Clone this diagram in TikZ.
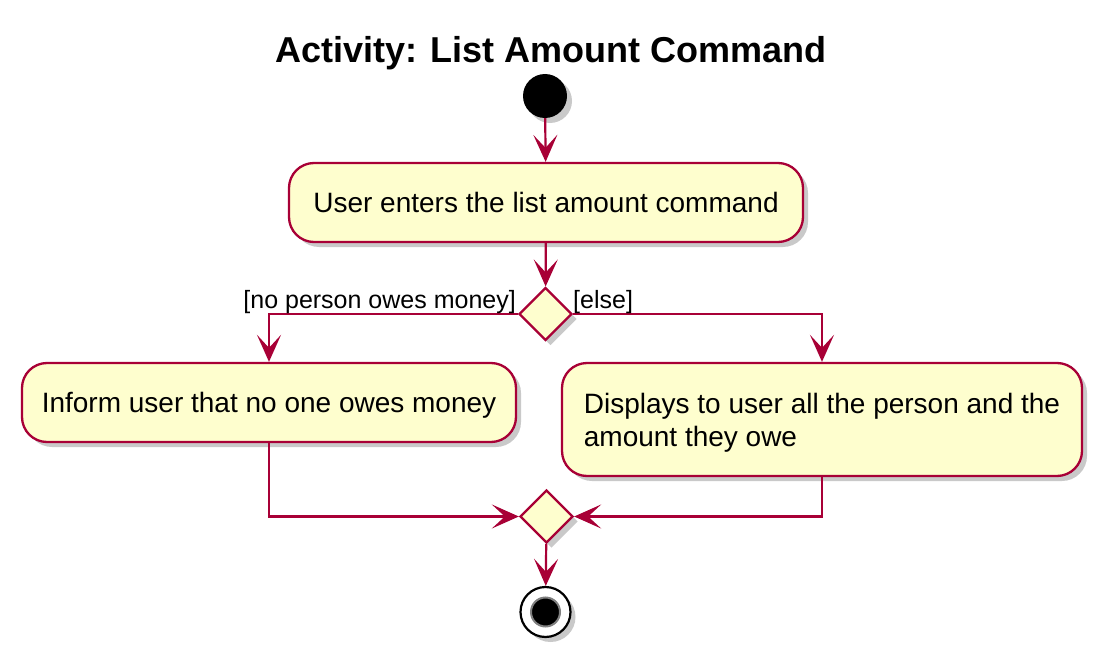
\documentclass[tikz,border=0pt]{standalone}
\usepackage{fontspec}
\setmainfont{Liberation Sans}
\usetikzlibrary{arrows.meta,shadows,shapes.geometric}
\definecolor{pborder}{HTML}{A80036}
\definecolor{pfill}{HTML}{FEFECE}
\tikzset{
  shad/.style={drop shadow={shadow xshift=5pt,shadow yshift=-5pt,opacity=0.3,fill=black!70}},
  actbox/.style={draw=pborder,fill=pfill,line width=2.3pt,rounded corners=25pt,shad,
    font=\fontsize{28pt}{33pt}\selectfont,inner sep=0pt,align=left,text depth=0pt},
  decis/.style={draw=pborder,fill=pfill,line width=2.3pt,diamond,shad,inner sep=0pt,
    minimum width=53pt,minimum height=53pt},
  conn/.style={draw=pborder,line width=2.2pt,-{Stealth[length=27pt,width=24pt,inset=13pt]}},
  glabel/.style={font=\fontsize{25pt}{30pt}\selectfont,inner sep=0pt},
}
\begin{document}
\begin{tikzpicture}[x=1pt,y=-1pt]
\useasboundingbox (0,0) rectangle (1104,661);
\node[font=\fontsize{36pt}{40pt}\selectfont\bfseries,anchor=base] (title) at (551,63) {Activity: List Amount Command};
\node[circle,fill=black,minimum size=44pt,inner sep=0pt,shad] (start) at (545,96) {};
\node[actbox,minimum width=514pt,minimum height=79pt] (b1) at (546,202.5) {User enters the list amount command};
\node[decis] (d1) at (545.5,314) {};
\node[actbox,minimum width=494pt,minimum height=79pt] (b2) at (269,402.5) {Inform user that no one owes money};
\node[actbox,minimum width=520pt,minimum height=113pt] (b3) at (822,419.5) {Displays to user all the person and the\\amount they owe};
\node[decis] (d2) at (546.5,516.5) {};
\node[circle,draw=black,line width=2.2pt,fill=white,minimum size=50pt,inner sep=0pt,shad] (end) at (545.5,612) {};
\node[circle,fill=black,draw=black!50,line width=2pt,minimum size=29pt,inner sep=0pt] (endin) at (end.center) {};
\coordinate (l1) at (269,314);
\coordinate (r1) at (822,314);
\coordinate (l2) at (269,516.5);
\coordinate (r2) at (822,516.5);
\draw[conn] (start) -- (b1);
\draw[conn] (b1) -- (d1);
\draw[conn] (d1.west) -- (l1) -- (b2);
\draw[conn] (d1.east) -- (r1) -- (b3);
\draw[conn] (b2) -- (l2) -- (d2.west);
\draw[conn] (b3) -- (r2) -- (d2.east);
\draw[conn] (d2) -- (end);
\node[glabel,anchor=base east] (lab1) at (516,308) {[no person owes money]};
\node[glabel,anchor=base west] (lab2) at (573,308) {[else]};
\end{tikzpicture}
\end{document}
